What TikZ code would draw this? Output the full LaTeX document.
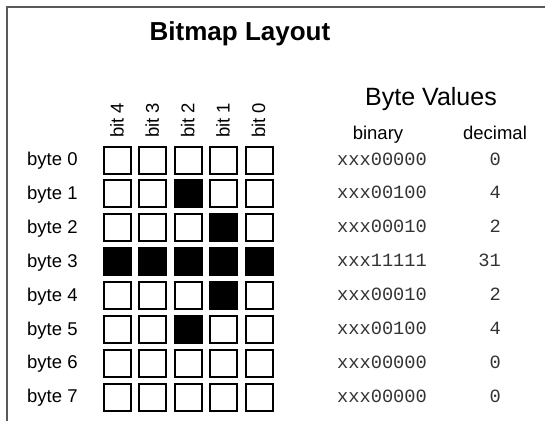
\documentclass[tikz,border=0pt]{standalone}
\usepackage{fontspec}
\setmainfont{Liberation Sans}
\setmonofont{Liberation Mono}
\usetikzlibrary{positioning}

\begin{document}
\begin{tikzpicture}[x=1pt,y=-1pt,
  cell/.style={draw,line width=2pt,minimum size=27pt,inner sep=0pt},
  rowlabel/.style={anchor=base west,inner sep=0pt,font=\fontsize{18.5}{20}\selectfont},
  bitlabel/.style={rotate=90,anchor=base west,inner sep=0pt,font=\fontsize{18.5}{20}\selectfont},
  colhead/.style={anchor=base,inner sep=0pt,font=\fontsize{18.5}{20}\selectfont},
  value/.style={inner sep=0pt,text=black!80,font=\fontsize{18.7}{20}\selectfont\ttfamily},
]
  \useasboundingbox (0,0) rectangle (545,421);
  \draw[line width=2pt,black!65] (545,7) -- (7,7) -- (7,421);

  \node[anchor=base,inner sep=0pt,font=\fontsize{26}{30}\selectfont\bfseries] (title)
    at (240,40) {Bitmap Layout};
  \node[anchor=base,inner sep=0pt,font=\fontsize{25}{28}\selectfont] (values)
    at (431,105) {Byte Values};
  \node[colhead] (binary) at (378,139) {binary};
  \node[colhead] (decimal) at (495,139) {decimal};

  % column labels, bit 4 on the left
  \foreach \c in {0,...,4} {
    \pgfmathtruncatemacro\bit{4-\c}
    \node[bitlabel] (bit-\bit) at ({123.5+35.4*\c},138) {bit \bit};
  }

  % one row per byte: grid, then its value
  \foreach \r/\v/\b in {0/0/00000,1/4/00100,2/2/00010,3/31/11111,
                        4/2/00010,5/4/00100,6/0/00000,7/0/00000} {
    \node[rowlabel] (byte-\r) at (27,{165.5+33.9*\r}) {byte \r};
    \foreach \c in {0,...,4} {
      \pgfmathtruncatemacro\on{mod(floor(\v/2^(4-\c)),2)}
      \ifnum\on=1 \def\shade{black}\else\def\shade{white}\fi
      \node[cell,fill=\shade] (cell-\r-\c) at ({117.5+35.4*\c},{160+33.9*\r}) {};
    }
    \node[value,anchor=base] (bin-\r) at (382,{165+33.9*\r}) {xxx\b};
    \node[value,anchor=base east] (dec-\r) at (501,{165+33.9*\r}) {\v};
  }
\end{tikzpicture}
\end{document}
